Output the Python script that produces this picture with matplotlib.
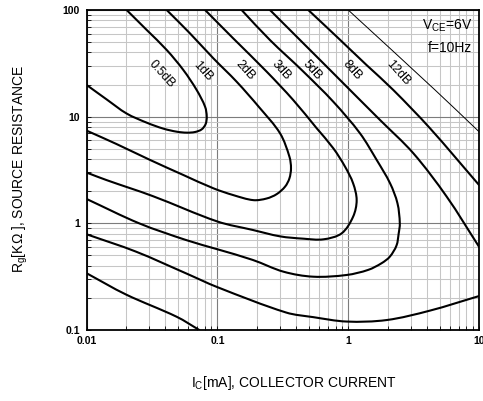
import matplotlib
matplotlib.use("Agg")
import numpy as np
import matplotlib.pyplot as plt
from matplotlib.ticker import LogLocator, NullFormatter
from matplotlib.path import Path
from matplotlib.patches import PathPatch

plt.rcParams['font.family'] = ['Liberation Sans', 'DejaVu Sans']
plt.rcParams['mathtext.fontset'] = 'custom'
plt.rcParams['mathtext.rm'] = 'Liberation Sans'
plt.rcParams['mathtext.default'] = 'regular'

# ---------------- data ----------------
xtick_vals = [0.01, 0.1, 1, 10]
xtick_labels = ['0.01', '0.1', '1', '10']
ytick_vals = [0.1, 1, 10, 100]
ytick_labels = ['0.1', '1', '10', '100']

# 0.5 dB contour
ic_05 = [0.0202, 0.0288, 0.0409, 0.0548, 0.0693, 0.0804, 0.0828, 0.0812, 0.0757,
         0.0673, 0.0582, 0.0488, 0.0386, 0.0288, 0.0202, 0.01422, 0.01]
rg_05 = [100, 64.9, 42.2, 27.4, 17.8, 12.4, 10.0, 8.53, 7.6,
         7.18, 7.08, 7.23, 7.72, 8.78, 10.7, 14.5, 19.8]

# 1 dB contour
ic_1 = [0.0409, 0.0616, 0.0931, 0.140, 0.209, 0.301, 0.355, 0.365, 0.355, 0.329,
        0.284, 0.238, 0.188, 0.132, 0.0931, 0.0548, 0.0305, 0.0169, 0.01]
rg_1 = [100, 60.4, 35.2, 21.3, 12.2, 6.98, 4.22, 3.28, 2.64, 2.21,
        1.88, 1.71, 1.65, 1.84, 2.13, 2.84, 3.93, 5.54, 7.39]

# 2 dB contour
ic_2 = [0.0804, 0.132, 0.238, 0.380, 0.574, 0.769, 0.945, 1.09, 1.16, 1.09,
        0.891, 0.646, 0.454, 0.301, 0.186, 0.1, 0.032, 0.0141, 0.01]
rg_2 = [100, 54.2, 26.4, 14.3, 7.78, 5.05, 3.40, 2.37, 1.65, 1.155,
        0.806, 0.708, 0.718, 0.755, 0.867, 1.04, 1.80, 2.55, 2.99]

# 3 dB contour
ic_3 = [0.153, 0.252, 0.446, 0.769, 1.23, 1.65, 2.09, 2.38, 2.48, 2.43,
        2.34, 2.08, 1.80, 1.42, 0.973, 0.540, 0.32, 0.186, 0.1, 0.0574, 0.0252, 0.01]
rg_3 = [100, 52.3, 27.0, 13.8, 6.98, 3.93, 2.37, 1.54, 1.0, 0.80,
        0.62, 0.487, 0.423, 0.366, 0.328, 0.316, 0.352, 0.454, 0.571, 0.698, 1.0, 1.69]

# 5 dB contour (upper and lower branch)
ic_5a = [0.252, 0.428, 0.726, 1.16, 1.75, 3.15, 5.66, 10]
rg_5a = [100, 52.3, 27.4, 15.4, 9.31, 4.53, 1.78, 0.604]
ic_5b = [0.01, 0.0238, 0.0574, 0.1, 0.334, 0.54, 0.973, 1.97, 4.22, 10]
rg_5b = [0.789, 0.543, 0.340, 0.252, 0.146, 0.132, 0.120, 0.124, 0.152, 0.208]

# 8 dB contour (upper and lower branch)
ic_8a = [0.495, 0.817, 1.38, 2.21, 4.22, 10]
rg_8a = [100, 56.2, 30.5, 17.8, 7.78, 2.29]
ic_8b = [0.01, 0.02, 0.0488, 0.0726]
rg_8b = [0.340, 0.215, 0.133, 0.1]

# 12 dB contour
ic_12 = [1.0, 4.61, 10]
rg_12 = [100, 17.8, 7.23]

curve_labels = ['0.5dB', '1dB', '2dB', '3dB', '5dB', '8dB', '12dB']

# ---------------- figure ----------------
fig = plt.figure(figsize=(4.83, 4.01), dpi=100)
ax = fig.add_axes([86.7 / 483, 1 - 330 / 401, (479 - 86.7) / 483, 320 / 401])
ax.set_xscale('log')
ax.set_yscale('log')
ax.set_xlim(0.01, 10)
ax.set_ylim(0.1, 100)

ASPECT = (320 / 3) / (392.3 / 3)  # y-decade / x-decade on screen


def smooth_path(xs, ys):
    """Smooth Bezier path through the read points (in log display space)."""
    P = np.column_stack([np.log10(xs), np.log10(ys) * ASPECT])
    n = len(P)
    d = np.linalg.norm(np.diff(P, axis=0), axis=1)
    T = np.zeros_like(P)
    T[0] = (P[1] - P[0]) / d[0]
    T[-1] = (P[-1] - P[-2]) / d[-1]
    for i in range(1, n - 1):
        T[i] = (P[i + 1] - P[i - 1]) / (d[i - 1] + d[i])
    verts = [P[0]]
    codes = [Path.MOVETO]
    for i in range(n - 1):
        verts += [P[i] + T[i] * d[i] / 3, P[i + 1] - T[i + 1] * d[i] / 3, P[i + 1]]
        codes += [Path.CURVE4] * 3
    V = np.array(verts)
    V[:, 1] /= ASPECT
    return Path(10 ** V, codes)


ax.set_axisbelow(True)
ax.grid(which='minor', color='#c6c6c6', lw=0.75)
ax.grid(which='major', color='#7c7c7c', lw=0.8)
ax.xaxis.set_minor_locator(LogLocator(base=10, subs=range(2, 10), numticks=20))
ax.yaxis.set_minor_locator(LogLocator(base=10, subs=range(2, 10), numticks=20))
ax.xaxis.set_minor_formatter(NullFormatter())
ax.yaxis.set_minor_formatter(NullFormatter())

ax.set_xticks(xtick_vals)
ax.set_xticklabels(xtick_labels, fontsize=7.5, fontweight='bold')
ax.set_yticks(ytick_vals)
ax.set_yticklabels(ytick_labels, fontsize=7.5, fontweight='bold')
ax.tick_params(which='both', direction='in', length=3, width=0.6, color='black')
ax.tick_params(axis='x', which='major', pad=4)
ax.tick_params(axis='y', which='major', pad=5)

for sp in ax.spines.values():
    sp.set_linewidth(1.3)
    sp.set_color('black')

for xs, ys in [(ic_05, rg_05), (ic_1, rg_1), (ic_2, rg_2), (ic_3, rg_3),
               (ic_5a, rg_5a), (ic_5b, rg_5b), (ic_8a, rg_8a), (ic_8b, rg_8b)]:
    ax.add_patch(PathPatch(smooth_path(xs, ys), fill=False, edgecolor='black', lw=1.5,
                           capstyle='round', joinstyle='round', zorder=3))
ax.add_patch(PathPatch(smooth_path(ic_12, rg_12), fill=False, edgecolor='black', lw=0.7,
                       zorder=3))

label_pos = [(0.0375, 25.1), (0.0771, 26.8), (0.163, 27.0), (0.310, 27.0),
             (0.526, 27.4), (1.063, 27.0), (2.42, 25.5)]
for txt, (lx, ly) in zip(curve_labels, label_pos):
    ax.text(lx, ly, txt, rotation=-48, rotation_mode='anchor', ha='center', va='center',
            fontsize=9, color='black', zorder=4)

fig.text(472 / 483, 1 - 25.7 / 401, r'V$_{CE}$=6V', ha='right', va='center', fontsize=10)
fig.text(472 / 483, 1 - 47.7 / 401, 'f=10Hz', ha='right', va='center', fontsize=10)

fig.text(294 / 483, 1 - 383 / 401, r'I$_{C}$[mA], COLLECTOR CURRENT', ha='center', va='center',
         fontsize=10)
fig.text(20 / 483, 1 - 168.5 / 401, r'R$_{g}$[KΩ ], SOURCE RESISTANCE', ha='center', va='center',
         rotation=90, fontsize=10)

fig.savefig('out.png', dpi=100)
